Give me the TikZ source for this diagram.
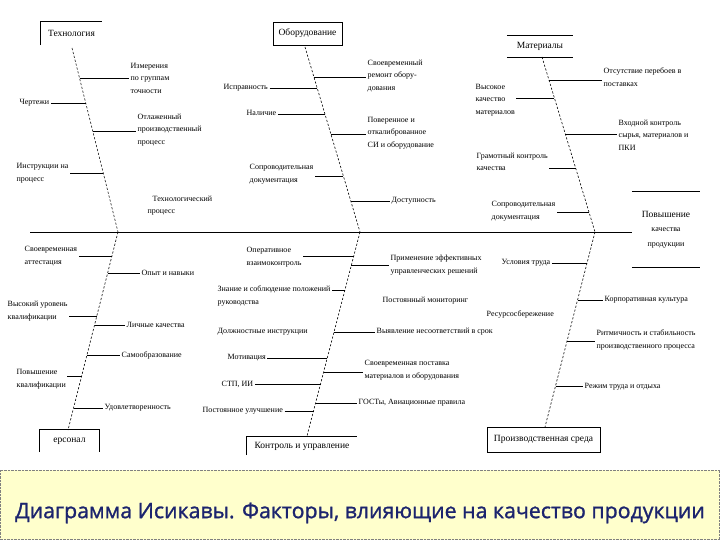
\documentclass[tikz,border=0pt]{standalone}
\usepackage{fontspec}
\setmainfont{Liberation Serif}
\newfontfamily\bannerfont[FakeBold=1.2]{Open Sans}
\usepackage{tikz}
\usetikzlibrary{calc}

\definecolor{bannerbg}{RGB}{255,255,204}
\definecolor{bannerfg}{RGB}{28,36,110}

\newcommand{\lblfont}{\fontsize{8}{12.5}\selectfont}
\newcommand{\hdfont}{\fontsize{9.5}{12}\selectfont}
% point on a bone at height #3
\newcommand{\onbone}[3]{\coordinate (#1) at (intersection of #2 and 0,#3--720,#3);}

\tikzset{
  bone/.style={dash pattern=on 2.2pt off 1.8pt, line width=0.6pt},
  twig/.style={line width=0.7pt},
  lbl/.style={font=\lblfont, align=left, inner sep=1.5pt, anchor=west},
  headlbl/.style={font=\hdfont, inner sep=0pt},
}

\begin{document}
\begin{tikzpicture}[x=1pt, y=-1pt]
\useasboundingbox (0,0) rectangle (720,540);

% --- heads ---
\node[headlbl, minimum width=61, minimum height=23] (hTech) at (71.5,33.5) {Технология};
\draw[twig] (hTech.south west) -- (hTech.north west) -- (hTech.north east);
\node[headlbl, draw, line width=0.7pt, minimum width=69, minimum height=23] (hEquip) at (307.5,33.5) {Оборудование};
\node[headlbl, minimum width=66, minimum height=21] (hMat) at (540,46.5) {Материалы};
\draw[twig] (hMat.north west) -- (hMat.north east);
\draw[twig] (hMat.south west) -- (hMat.south east);
\node[headlbl, minimum width=59, minimum height=22] (hStaff) at (69.5,441) {ерсонал};
\draw[twig] (hStaff.south west) -- (hStaff.north west) -- (hStaff.north east) -- (hStaff.south east);
\node[headlbl, minimum width=110, minimum height=18] (hCtrl) at (302,446) {Контроль и управление};
\draw[twig] (hCtrl.south west) -- (hCtrl.north west) -- (hCtrl.north east);
\node[headlbl, draw, line width=0.7pt, minimum width=113, minimum height=25] (hEnv) at (543.5,439.5) {Производственная среда};

% --- effect ---
\node[font=\lblfont, align=center, minimum width=68, minimum height=75, inner sep=0pt] (eff) at (666,229.5)
  {{\fontsize{9.5}{15}\selectfont Повышение}\\[2pt]качества\\[2pt]продукции};
\draw[twig] (eff.north west) -- (eff.north east);
\draw[twig] (eff.south west) -- (eff.south east);

% --- spine ---
\coordinate (tail) at (30,232);
\draw[line width=0.8pt] (tail) -- (tail -| eff.west);

% --- bones ---
\coordinate (At) at (72,48);   \coordinate (Ab) at (118,232);
\coordinate (Bt) at (305,47);  \coordinate (Bb) at (360,232);
\coordinate (Ct) at (542,57);  \coordinate (Cb) at (595,232);
\coordinate (Dt) at (118,232); \coordinate (Db) at (68,430);
\coordinate (Et) at (360,232); \coordinate (Eb) at (307,436);
\coordinate (Ft) at (595,232); \coordinate (Fb) at (545,427);
\draw[bone] (At) -- (Ab);
\draw[bone] (Bt) -- (Bb);
\draw[bone] (Ct) -- (Cb);
\draw[bone] (Dt) -- (Db);
\draw[bone] (Et) -- (Eb);
\draw[bone] (Ft) -- (Fb);

% --- Технология ---
\node[lbl] (r1) at (129,78) {Измерения\\по группам\\точности};
\onbone{a1}{At--Ab}{78} \draw[twig] (a1) -- (a1 -| r1.west);
\node[lbl] (l1) at (18,103) {Чертежи};
\onbone{a2}{At--Ab}{103} \draw[twig] (l1.east |- a2) -- (a2);
\node[lbl] (r2) at (136,130) {Отлаженный\\производственный\\процесс};
\onbone{a3}{At--Ab}{131} \draw[twig] (a3) -- (a3 -| r2.west);
\node[lbl] (l2) at (15,173) {Инструкции на\\процесс};
\onbone{a4}{At--Ab}{173} \draw[twig] (l2.east |- a4) -- (a4);
\node[lbl] (f1) at (146,205.5) {\hspace*{5pt}Технологический\\процесс};

% --- Оборудование ---
\node[lbl] (r3) at (366,76) {Своевременный\\ремонт обору-\\дования};
\onbone{b1}{Bt--Bb}{77} \draw[twig] (b1) -- (b1 -| r3.west);
\node[lbl] (l3) at (222,88) {Исправность};
\onbone{b2}{Bt--Bb}{88} \draw[twig] (l3.east |- b2) -- (b2);
\node[lbl] (l4) at (245,113) {Наличие};
\onbone{b3}{Bt--Bb}{114} \draw[twig] (l4.east |- b3) -- (b3);
\node[lbl] (r4) at (366,133) {Поверенное и\\откалиброванное\\СИ и оборудование};
\onbone{b4}{Bt--Bb}{134} \draw[twig] (b4) -- (b4 -| r4.west);
\node[lbl] (l5) at (248,174) {Сопроводительная\\документация};
\onbone{b5}{Bt--Bb}{176} \draw[twig] (l5.east |- b5) -- (b5);
\node[lbl] (r5) at (390,201) {Доступность};
\onbone{b6}{Bt--Bb}{201} \draw[twig] (b6) -- (b6 -| r5.west);

% --- Материалы ---
\node[lbl] (r6) at (602,77) {Отсутствие перебоев в\\поставках};
\onbone{c1}{Ct--Cb}{80} \draw[twig] (c1) -- (c1 -| r6.west);
\node[lbl] (l6) at (474,100) {Высокое\\качество\\материалов};
\onbone{c2}{Ct--Cb}{98} \draw[twig] (l6.east |- c2) -- (c2);
\node[lbl] (r7) at (617,135) {Входной контроль\\сырья, материалов и\\ПКИ};
\onbone{c3}{Ct--Cb}{134} \draw[twig] (c3) -- (c3 -| r7.west);
\node[lbl] (l7) at (475,162) {Грамотный контроль\\качества};
\onbone{c4}{Ct--Cb}{168} \draw[twig] (l7.east |- c4) -- (c4);
\node[lbl] (l8) at (490,211) {Сопроводительная\\документация};
\onbone{c5}{Ct--Cb}{212} \draw[twig] (l8.east |- c5) -- (c5);

% --- Персонал ---
\node[lbl] (l9) at (23,256) {Своевременная\\аттестация};
\onbone{d1}{Dt--Db}{256} \draw[twig] (l9.east |- d1) -- (d1);
\node[lbl] (r8) at (140,273) {Опыт и навыки};
\onbone{d2}{Dt--Db}{273} \draw[twig] (d2) -- (d2 -| r8.west);
\node[lbl] (l10) at (6,311) {Высокий уровень\\квалификации};
\onbone{d3}{Dt--Db}{316} \draw[twig] (l10.east |- d3) -- (d3);
\node[lbl] (r9) at (125,325) {Личные качества};
\onbone{d4}{Dt--Db}{325} \draw[twig] (d4) -- (d4 -| r9.west);
\node[lbl] (r10) at (120,355) {Самообразование};
\onbone{d5}{Dt--Db}{355} \draw[twig] (d5) -- (d5 -| r10.west);
\node[lbl] (l11) at (15,379) {Повышение\\квалификации};
\onbone{d6}{Dt--Db}{376} \draw[twig] (l11.east |- d6) -- (d6);
\node[lbl] (r11) at (103,408) {Удовлетворенность};
\onbone{d7}{Dt--Db}{408} \draw[twig] (d7) -- (d7 -| r11.west);

% --- Контроль и управление ---
\node[lbl] (l12) at (245,257) {Оперативное\\взаимоконтроль};
\onbone{e1}{Et--Eb}{256} \draw[twig] (l12.east |- e1) -- (e1);
\node[lbl] (r12) at (389,265) {Применение эффективных\\управленческих решений};
\onbone{e2}{Et--Eb}{265} \draw[twig] (e2) -- (e2 -| r12.west);
\node[lbl] (l13) at (216,296) {Знание и соблюдение положений\\руководства};
\onbone{e3}{Et--Eb}{290} \draw[twig] (l13.east |- e3) -- (e3);
\node[lbl] (f2) at (381,301) {Постоянный мониторинг};
\node[lbl] (f3) at (216,332) {Должностные инструкции};
\node[lbl] (r13) at (375,332) {Выявление несоответствий в срок};
\onbone{e4}{Et--Eb}{332} \draw[twig] (e4) -- (e4 -| r13.west);
\node[lbl] (l14) at (226,358) {Мотивация};
\onbone{e5}{Et--Eb}{358} \draw[twig] (l14.east |- e5) -- (e5);
\node[lbl] (r14) at (363,370) {Своевременная поставка\\материалов и оборудования};
\onbone{e6}{Et--Eb}{372} \draw[twig] (e6) -- (e6 -| r14.west);
\node[lbl] (l15) at (220,384) {СТП, ИИ};
\onbone{e7}{Et--Eb}{384} \draw[twig] (l15.east |- e7) -- (e7);
\node[lbl] (r15) at (357,403) {ГОСТы, Авиационные правила};
\onbone{e8}{Et--Eb}{403} \draw[twig] (e8) -- (e8 -| r15.west);
\node[lbl] (l16) at (201,411) {Постоянное улучшение};
\onbone{e9}{Et--Eb}{411} \draw[twig] (l16.east |- e9) -- (e9);

% --- Производственная среда ---
\node[lbl] (l17) at (500,263) {Условия труда};
\onbone{g1}{Ft--Fb}{263} \draw[twig] (l17.east |- g1) -- (g1);
\node[lbl] (r16) at (603,300) {Корпоративная культура};
\onbone{g2}{Ft--Fb}{300} \draw[twig] (g2) -- (g2 -| r16.west);
\node[lbl] (f4) at (485,314) {Ресурсосбережение};
\node[lbl] (r17) at (595,340) {Ритмичность и стабильность\\производственного процесса};
\onbone{g3}{Ft--Fb}{341} \draw[twig] (g3) -- (g3 -| r17.west);
\node[lbl] (r18) at (583,387) {Режим труда и отдыха};
\onbone{g4}{Ft--Fb}{386} \draw[twig] (g4) -- (g4 -| r18.west);

% --- caption band ---
\fill[bannerbg] (0,470) rectangle (720,540);
\draw[densely dotted, gray] (0.5,470) rectangle (719.5,539.5);
\node[font=\bannerfont\fontsize{21.3}{25}\selectfont, text=bannerfg] (caption) at (360,513)
  {Диаграмма Исикавы. Факторы, влияющие на качество продукции};

\end{tikzpicture}
\end{document}
